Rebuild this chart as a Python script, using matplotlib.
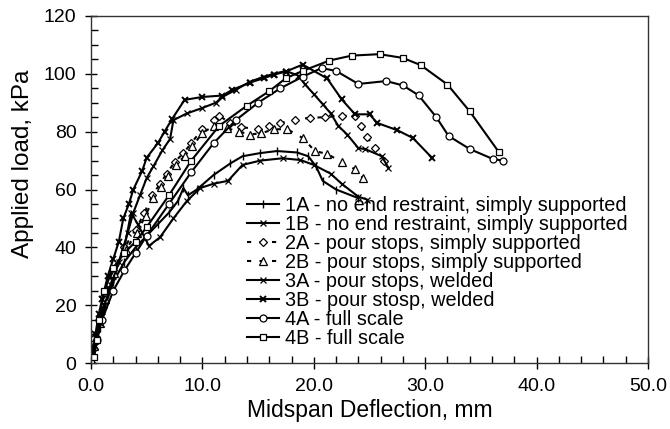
import matplotlib
matplotlib.use("Agg")
import matplotlib.pyplot as plt
from matplotlib.ticker import MultipleLocator, FormatStrFormatter

plt.rcParams['font.family'] = ['Liberation Sans', 'DejaVu Sans']

# Midspan deflection (mm) and applied load (kPa) for each test
x_1a = [0, 0.4, 0.8, 1.3, 2, 3, 4, 5, 6, 7, 7.8, 8.3, 8.7, 9.5, 11, 12.5, 13.6, 15.2, 16.7, 18.5, 19.5, 20.2, 20.8, 22, 24]
y_1a = [0, 6, 12, 20, 28, 35, 40, 44, 48, 52, 56, 60.5, 58, 60, 65, 69, 71.5, 72.6, 73.3, 72.8, 71.5, 68, 63, 60, 57]

x_1b = [0, 0.5, 1, 2, 3, 3.6, 4.2, 5.2, 6.2, 7.4, 8.6, 9.8, 11, 12.3, 13.6, 15.2, 17.2, 18.8, 20, 21.5, 22.5, 24, 24.8]
y_1b = [0, 10, 18, 30, 40, 52, 48, 40.5, 43.5, 50, 56, 60.5, 62, 63, 68.5, 70, 70.8, 70.2, 68.5, 65.5, 62, 57.5, 56.5]

x_2a = [0, 0.3, 0.7, 1.2, 2, 3, 4, 4.8, 5.5, 6.2, 6.8, 7.5, 8.3, 9, 10, 11, 11.5, 12.5, 13.5, 15, 16, 17, 18.3, 19.7, 21, 22.5, 23.7, 24.2, 24.8, 25.5, 26.3]
y_2a = [0, 7, 15, 23, 32, 40, 46, 52, 58, 62, 65.5, 69.5, 72.6, 76, 81, 84, 85.5, 83, 81.5, 81, 82, 83, 84.2, 84.8, 85, 85.5, 85.4, 82, 78, 74.5, 70]

x_2b = [0, 0.3, 0.8, 1.3, 2.1, 3.1, 4.1, 4.9, 5.6, 6.3, 6.9, 7.6, 8.4, 9.1, 10, 11, 12.2, 13.3, 14.3, 15.3, 16.4, 17.6, 19, 20.1, 21.2, 22.5, 23.7, 24.4]
y_2b = [0, 6, 14, 22, 31, 39, 45, 51, 57, 61, 64.5, 68.5, 71.5, 75, 79.5, 82, 81.2, 80, 79, 79.5, 80.8, 80.9, 77.8, 73.3, 72.3, 69.5, 67, 64]

x_3a = [0, 0.4, 0.8, 1.2, 1.8, 2.5, 3.3, 3.8, 4.4, 5, 5.6, 6.4, 7.1, 7.4, 8.6, 10, 11.2, 11.8, 13, 14.3, 15.5, 16.4, 17.5, 18.6, 19.2, 20, 20.8, 21.5, 22.2, 23, 24, 24.6, 26.1, 26.7]
y_3a = [0, 6, 14, 20, 27, 35, 45, 52, 58, 64, 68, 73.5, 77.5, 84, 86.3, 88.2, 90, 92, 94.5, 97.3, 99, 100, 101, 99.4, 96.4, 93, 89.5, 86.4, 82, 79, 74.3, 74, 71.5, 67.5]

x_3b = [0, 0.2, 0.4, 0.7, 1, 1.5, 2, 2.5, 2.9, 3.4, 3.8, 4.6, 5, 6, 6.6, 7.3, 8.4, 10, 11.8, 12.7, 14.3, 15.5, 16.4, 17.5, 19, 21.2, 22.5, 23.7, 25, 25.7, 27.5, 28.9, 30.6]
y_3b = [0, 5, 10, 17, 22, 30, 36, 42, 50, 55, 60, 66.5, 71, 76, 80, 84.5, 91, 92, 92.5, 94.5, 97, 98.5, 99.7, 100.8, 103.2, 98.4, 91.2, 86, 86, 83, 80.5, 77.8, 71]

x_4a = [0, 0.5, 1, 2, 3, 4, 5, 7, 9, 11, 13, 15, 17, 19, 20.7, 22, 24, 26.5, 28, 29.4, 31, 32.1, 34, 36.1, 37]
y_4a = [0, 8, 15, 25, 32, 38, 44, 55, 66, 76, 84, 90, 95, 99, 102, 101, 96.5, 97.5, 96, 92.6, 85, 78.5, 74, 70.5, 70]

x_4b = [0, 0.3, 0.5, 0.7, 1.2, 2, 3, 4, 5, 7, 9, 11.5, 14, 16, 17.5, 19, 21.4, 23.4, 25.9, 28, 29.6, 32, 34, 36.6]
y_4b = [0, 2, 8, 15, 25, 33, 38, 42, 47, 58, 70, 82, 89, 94, 98.5, 101, 104.6, 106.3, 106.8, 105.5, 103, 96.3, 87, 73]

labels = [
    "1A - no end restraint, simply supported",
    "1B - no end restraint, simply supported",
    "2A - pour stops, simply supported",
    "2B - pour stops, simply supported",
    "3A - pour stops, welded",
    "3B - pour stosp, welded",
    "4A - full scale",
    "4B - full scale",
]

series = [
    (x_1a, y_1a, dict(marker='|', ls='-', ms=6, mew=1.0)),
    (x_1b, y_1b, dict(marker='x', ls='-', ms=5, mew=0.9)),
    (x_2a, y_2a, dict(marker='D', ls=(0, (2, 4)), ms=4.5, mew=0.9, mfc='white')),
    (x_2b, y_2b, dict(marker='^', ls=(0, (2, 4)), ms=5.5, mew=0.9, mfc='white')),
    (x_3a, y_3a, dict(marker='x', ls='-', ms=5, mew=0.9)),
    (x_3b, y_3b, dict(marker='x', ls='-', ms=5, mew=1.4)),
    (x_4a, y_4a, dict(marker='o', ls='-', ms=5, mew=0.9, mfc='white')),
    (x_4b, y_4b, dict(marker='s', ls='-', ms=5, mew=0.9, mfc='white')),
]

fig = plt.figure(figsize=(6.7, 4.29), dpi=100)
ax = fig.add_axes([91 / 670, 1 - 363 / 429, 557 / 670, 347 / 429])

for (xs, ys, st), lab in zip(series, labels):
    ax.plot(xs, ys, color='black', lw=1.5, mec='black', label=lab, **st)

ax.set_xlim(0, 50)
ax.set_ylim(0, 120)
ax.xaxis.set_major_locator(MultipleLocator(10))
ax.xaxis.set_minor_locator(MultipleLocator(2))
ax.yaxis.set_major_locator(MultipleLocator(20))
ax.yaxis.set_minor_locator(MultipleLocator(5))
ax.xaxis.set_major_formatter(FormatStrFormatter('%.1f'))
ax.yaxis.set_major_formatter(FormatStrFormatter('%d'))
ax.tick_params(which='major', direction='inout', length=9, width=1, labelsize=14, pad=6, colors='black')
ax.tick_params(which='minor', direction='in', length=5, width=1)
for s in ax.spines.values():
    s.set_linewidth(1.0)
    s.set_color('#333333')

ax.set_xlabel("Midspan Deflection, mm", fontsize=16.5, labelpad=3)
ax.set_ylabel("Applied load, kPa", fontsize=17.5)
ax.yaxis.set_label_coords(-0.103, 0.575)

leg = ax.legend(loc='upper left', bbox_to_anchor=((247 - 91) / 557, (363 - 196) / 347),
                frameon=False, fontsize=14.3, handlelength=1.6, handletextpad=0.3,
                labelspacing=0.0, borderpad=0, borderaxespad=0)

fig.savefig("out.png", dpi=100)
